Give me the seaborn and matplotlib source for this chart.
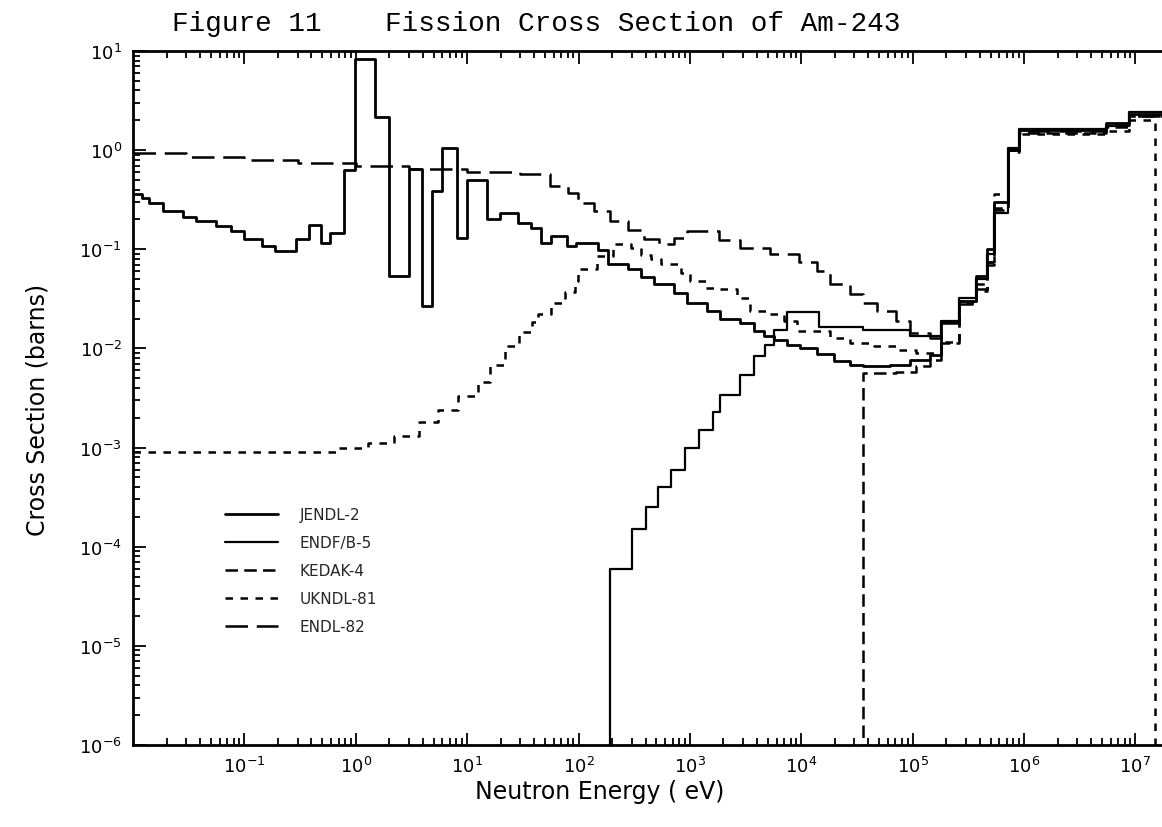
import matplotlib
matplotlib.use("Agg")
import matplotlib.pyplot as plt
import numpy as np
import pandas as pd
import seaborn as sns
from matplotlib.ticker import LogLocator, NullFormatter, FixedLocator

# ---------------- data (energies in eV, cross sections in barns) ----------------
labels = ["JENDL-2", "ENDF/B-5", "KEDAK-4", "UKNDL-81", "ENDL-82"]

jendl_e = [0.01, 0.012, 0.014, 0.0186, 0.028, 0.037, 0.056, 0.076, 0.10, 0.145,
           0.19, 0.29, 0.38, 0.49, 0.59, 0.785, 0.985, 1.48, 2.0, 3.0,
           3.9, 4.8, 5.9, 8.1, 9.9, 15.0, 19.7, 28.7, 37.8, 46.0,
           57.0, 78.0, 95.0, 149, 183, 277, 363, 479, 723, 950,
           1430, 1880, 2840, 3750, 4610, 5660, 7430, 9780, 13800, 19500,
           27400, 36100, 62300, 94000, 1.42e5, 1.8e5, 2.6e5, 3.7e5, 4.6e5, 5.4e5,
           7.1e5, 9.0e5, 5.4e6, 8.7e6, 2.0e7]
jendl_v = [0.36, 0.33, 0.295, 0.243, 0.211, 0.193, 0.171, 0.153, 0.126, 0.108,
           0.097, 0.126, 0.175, 0.116, 0.147, 0.625, 8.3, 2.14, 0.054, 0.646,
           0.027, 0.388, 1.06, 0.13, 0.497, 0.20, 0.234, 0.185, 0.165, 0.116,
           0.136, 0.107, 0.116, 0.0995, 0.0715, 0.063, 0.052, 0.045, 0.036, 0.029,
           0.024, 0.020, 0.018, 0.0149, 0.0133, 0.0123, 0.0109, 0.010, 0.0087, 0.0074,
           0.0068, 0.0066, 0.0068, 0.0077, 0.0085, 0.0187, 0.030, 0.054, 0.10, 0.30,
           1.0, 1.6, 1.9, 2.3]

endf_e = [190, 300, 400, 520, 680, 900, 1200, 1600, 1880, 2840,
          3750, 4760, 5660, 7430, 14300, 36100, 94000, 1.8e5, 2.6e5, 3.7e5,
          4.6e5, 5.4e5, 7.1e5, 9.0e5, 5.4e6, 8.7e6, 2.0e7]
endf_v = [6.0e-5, 1.5e-4, 2.5e-4, 4.0e-4, 6.0e-4, 1.0e-3, 1.5e-3, 2.3e-3, 3.4e-3, 5.4e-3,
          8.3e-3, 0.0109, 0.0155, 0.0235, 0.0164, 0.0153, 0.0133, 0.019, 0.032, 0.050,
          0.09, 0.23, 1.05, 1.65, 1.75, 2.4]

kedak_e = [36100, 71400, 1.07e5, 1.42e5, 1.8e5, 2.6e5, 3.7e5, 4.6e5, 5.4e5, 7.1e5,
           9.0e5, 5.4e6, 8.7e6, 2.0e7]
kedak_v = [0.0056, 0.0058, 0.0066, 0.0077, 0.0113, 0.030, 0.040, 0.075, 0.26, 1.0,
           1.5, 1.7, 2.2]

ukndl_e = [0.01, 0.7, 1.3, 2.2, 3.7, 5.5, 8.3, 12.6, 16.0, 22.0,
           29.0, 38.0, 43.0, 57.0, 75.0, 92.0, 99.0, 145, 205, 297,
           363, 447, 550, 830, 1000, 1380, 1760, 2650, 3490, 4920,
           6920, 9120, 18100, 27400, 44700, 71400, 1.07e5, 1.8e5, 2.6e5, 3.7e5,
           4.6e5, 5.4e5, 7.1e5, 9.0e5, 5.4e6, 8.7e6, 1.5e7]
ukndl_v = [9.0e-4, 1.0e-3, 1.1e-3, 1.3e-3, 1.8e-3, 2.4e-3, 3.3e-3, 4.6e-3, 6.8e-3, 0.0105,
           0.0145, 0.0185, 0.022, 0.029, 0.0375, 0.0475, 0.063, 0.085, 0.112, 0.103,
           0.087, 0.080, 0.071, 0.058, 0.0475, 0.041, 0.040, 0.032, 0.024, 0.022,
           0.0188, 0.0149, 0.0127, 0.0113, 0.0105, 0.0097, 0.009, 0.0115, 0.029, 0.038,
           0.070, 0.36, 1.0, 1.45, 1.55, 2.0]

endl_e = [0.01, 0.03, 0.1, 0.3, 1.0, 3.0, 10.0, 30.0, 55.0, 80.0,
          99.0, 139, 190, 277, 390, 531, 723, 950, 1820, 2840,
          5270, 9460, 13800, 18100, 27400, 36100, 47400, 71400, 94000, 1.42e5,
          1.8e5, 2.6e5, 3.7e5, 4.6e5, 5.4e5, 7.1e5, 9.0e5, 5.4e6, 8.7e6, 2.0e7]
endl_v = [0.93, 0.86, 0.80, 0.74, 0.69, 0.64, 0.60, 0.57, 0.435, 0.373,
          0.295, 0.243, 0.193, 0.158, 0.126, 0.112, 0.13, 0.153, 0.124, 0.103,
          0.0904, 0.0737, 0.061, 0.045, 0.0355, 0.029, 0.024, 0.0188, 0.0144, 0.0127,
          0.018, 0.028, 0.045, 0.075, 0.25, 0.95, 1.55, 1.8, 2.2]

x_ticks = [1e-1, 1e0, 1e1, 1e2, 1e3, 1e4, 1e5, 1e6, 1e7]
y_ticks = [1e-6, 1e-5, 1e-4, 1e-3, 1e-2, 1e-1, 1e0, 1e1]
XMIN, XMAX = 1e-2, 2e7
YMIN, YMAX = 1e-6, 1e1

# ---------------- helpers ----------------
def step_frame(edges, values, lead=False, tail=False):
    x = list(edges)
    y = list(values) + [values[-1]]
    if lead:
        x = [edges[0]] + x
        y = [YMIN * 0.5] + y
    if tail:
        x = x + [edges[-1]]
        y = y + [YMIN * 0.5]
    return pd.DataFrame({"E": x, "sigma": y})

sns.set_style("white")
plt.rcParams["font.family"] = ["DejaVu Sans"]
plt.rcParams["mathtext.fontset"] = "dejavusans"

fig = plt.figure(figsize=(11.62, 8.28), dpi=100)
W, H = 1162.0, 828.0
L, R, T, B = 133, 1169, 52, 746
ax = fig.add_axes([L / W, 1 - B / H, (R - L) / W, (B - T) / H])

series = [
    (labels[0], step_frame(jendl_e, jendl_v), dict(linewidth=2.0, linestyle="-")),
    (labels[1], step_frame(endf_e, endf_v, lead=True), dict(linewidth=1.6, linestyle="-")),
    (labels[2], step_frame(kedak_e, kedak_v, lead=True), dict(linewidth=1.8, linestyle=(0, (5, 2.5)))),
    (labels[3], step_frame(ukndl_e, ukndl_v, tail=True), dict(linewidth=1.8, linestyle=(0, (3, 3)))),
    (labels[4], step_frame(endl_e, endl_v), dict(linewidth=1.8, linestyle=(0, (9, 3.5)))),
]

handles = []
for name, df, kw in series:
    sns.lineplot(data=df, x="E", y="sigma", ax=ax, estimator=None, sort=False,
                 drawstyle="steps-post", color="black", **kw)
    handles.append(ax.lines[-1])

ax.set_xscale("log")
ax.set_yscale("log")
ax.set_xlim(XMIN, XMAX)
ax.set_ylim(YMIN, YMAX)

ax.xaxis.set_major_locator(FixedLocator(x_ticks))
ax.yaxis.set_major_locator(FixedLocator(y_ticks))
ax.xaxis.set_minor_locator(LogLocator(base=10, subs=np.arange(2, 10), numticks=40))
ax.yaxis.set_minor_locator(LogLocator(base=10, subs=np.arange(2, 10), numticks=40))
ax.xaxis.set_minor_formatter(NullFormatter())
ax.yaxis.set_minor_formatter(NullFormatter())
ax.set_xticklabels([r"$10^{%d}$" % round(np.log10(v)) for v in x_ticks])
ax.set_yticklabels([r"$10^{%d}$" % round(np.log10(v)) for v in y_ticks])

ax.tick_params(which="both", direction="in", top=True, right=False, bottom=True, left=True,
               color="black", width=1.3, labelsize=13, labelcolor="black")
ax.tick_params(which="major", length=9, pad=8)
ax.tick_params(which="minor", length=5)
for side in ["left", "bottom", "top"]:
    ax.spines[side].set_visible(True)
    ax.spines[side].set_color("black")
    ax.spines[side].set_linewidth(2.0)
ax.spines["right"].set_visible(False)

ax.set_xlabel("")
ax.set_ylabel("")

fig.text(600 / W, 1 - 792 / H, "Neutron Energy ( eV)", ha="center", va="center",
         fontsize=17, color="black")
fig.text(38 / W, 1 - 410 / H, "Cross Section (barns)", ha="center", va="center",
         rotation=90, fontsize=17, color="black")

fig.text(172 / W, 1 - 24 / H, "Figure 11", ha="left", va="center",
         family="Liberation Mono", fontsize=20, color="black")
fig.text(385 / W, 1 - 24 / H, "Fission Cross Section of Am-243", ha="left", va="center",
         family="Liberation Mono", fontsize=20, color="black")

leg = ax.legend(handles, labels, loc="upper left", bbox_to_anchor=(225 / W, 1 - 508 / H),
                bbox_transform=fig.transFigure, frameon=False, fontsize=11,
                handlelength=3.5, handletextpad=1.4, labelspacing=0.85,
                borderaxespad=0, borderpad=0)

fig.savefig("out.png", dpi=100)
